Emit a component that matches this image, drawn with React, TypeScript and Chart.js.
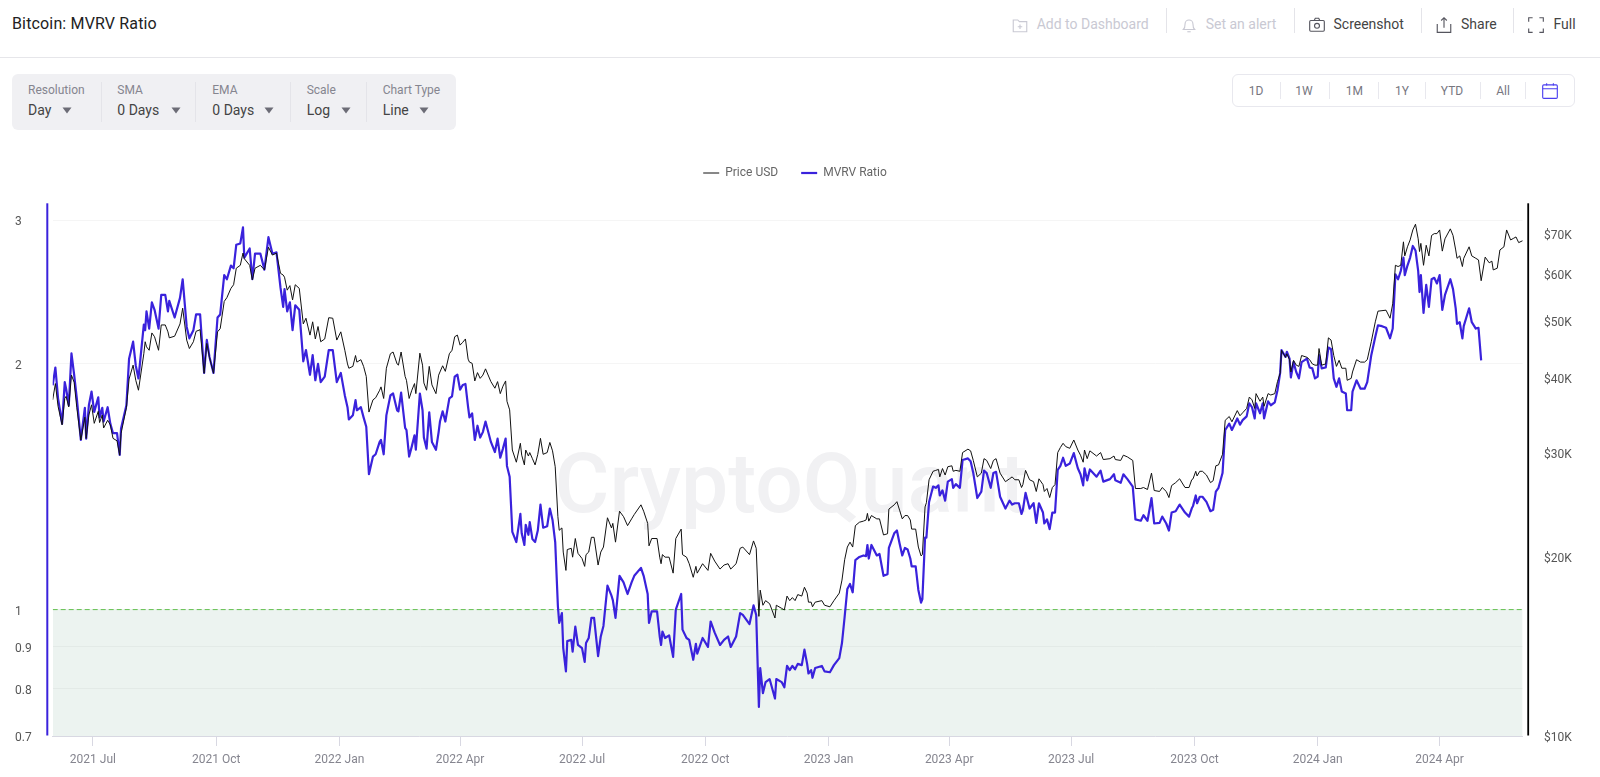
import React, { useEffect, useRef } from "react";
import { Chart, registerables } from "chart.js";

Chart.register(...registerables);

// Day numbers count from 2021-06-01. Values at the turning points of the lines.
const daysA = [0,2,4,7,9,10,12,14,16,18,21,24,25,27,29,31,34,35,37,38,41,43,45,48,50,51,55,57,60,62,64,68,69,70,72,74,76,79,81,84,86,87,91,95,97,100,102,105,107,110,113,115,117,120,123,125,128,130,133,135,137,140,142,143,147,149,151,155,158,161,164,167,170,172,173,175,177];
const mvrvA = [1.883,1.98,1.815,1.69,1.90,1.865,1.78,2.06,1.94,1.815,1.614,1.767,1.62,1.78,1.85,1.747,1.82,1.72,1.767,1.70,1.77,1.69,1.645,1.645,1.547,1.667,1.78,2.03,2.13,1.99,1.92,2.235,2.20,2.32,2.21,2.38,2.33,2.21,2.43,2.43,2.32,2.39,2.28,2.41,2.54,2.22,2.15,2.20,2.30,2.30,1.95,2.14,2.04,1.95,2.28,2.30,2.57,2.54,2.64,2.62,2.80,2.81,2.94,2.70,2.77,2.54,2.73,2.73,2.61,2.86,2.73,2.74,2.48,2.35,2.47,2.32,2.38];
const priceA = [36.8,39.2,35.9,33.4,37.0,37.3,35.8,40.5,39.4,35.7,31.5,34.4,31.7,34.7,36.1,33.6,35.2,33.7,34.7,33.0,34.0,33.4,31.7,31.4,29.7,32.3,35.7,39.9,42.1,39.7,38.2,44.0,46.1,45.2,44.6,47.7,47.0,44.6,49.2,49.2,47.9,46.8,47.1,49.4,52.5,46.4,44.9,46.1,48.0,48.3,40.8,45.8,43.4,40.8,47.9,48.5,53.9,54.7,56.7,57.5,61.3,62.0,65.0,63.6,62.0,58.6,61.3,62.0,60.9,66.5,64.5,65.0,60.1,59.7,59.2,56.3,57.3];

const daysB = [179,181,184,187,189,192,194,196,198,200,203,206,209,212,215,218,220,221,224,226,227,230,232,234,236,239,241,244,245,247,249,252,254,257,258,260,263,264,266,268,270,271,274,276,277,279,281,283,286,288,289,291,293,296,298,300,302,304,306,308,310,311,313,315,317,319,321,323,327,330,332,334,336,338,339,341,343,346,349,350,352,353,355];
const mvrvB = [2.20,2.36,2.33,2.015,2.08,1.94,2.05,1.91,2.0,1.90,1.93,2.08,2.08,1.90,1.95,1.83,1.77,1.71,1.73,1.806,1.755,1.77,1.72,1.675,1.465,1.54,1.55,1.605,1.614,1.55,1.73,1.83,1.84,1.755,1.75,1.845,1.67,1.66,1.54,1.585,1.635,1.57,1.84,1.755,1.625,1.575,1.745,1.605,1.57,1.65,1.70,1.75,1.70,1.815,1.825,1.93,1.94,1.86,1.885,1.89,1.77,1.72,1.74,1.614,1.68,1.625,1.65,1.70,1.605,1.56,1.62,1.535,1.575,1.62,1.50,1.455,1.245,1.21,1.31,1.24,1.20,1.27,1.235];
const priceB = [54.2,57.5,56.7,49.4,50.5,47.3,49.8,46.6,48.9,46.1,46.6,50.6,50.5,46.4,47.9,44.6,42.3,41.6,41.9,43.7,42.6,43.0,41.9,40.3,35.1,36.8,37.1,38.2,38.7,37.0,41.6,44.0,44.3,42.3,42.1,44.3,40.3,39.7,37.0,38.2,39.2,37.7,44.1,42.1,39.3,38.2,41.9,39.0,37.7,40.5,41.0,42.0,41.1,44.0,44.6,47.0,47.3,45.5,46.0,46.6,43.1,42.6,42.4,39.6,40.9,40.0,40.5,41.5,39.5,38.5,39.5,37.7,38.8,39.6,36.6,35.4,30.3,28.9,31.1,29.7,28.6,30.3,29.6];

const daysC = [356,358,360,362,364,366,369,371,373,375,377,378,380,381,383,384,387,388,390,392,395,397,398,400,402,404,407,409,411,414,417,418,420,423,426,429,432,434,439,441,444,445,447,451,453,454,455,457,460,463,465,469,470,473,475,478,480,481,485,489,491,494,498,501,504,506,510,513,515,520,523,525,527,528,530,532];
const mvrvC = [1.28,1.22,1.21,1.25,1.345,1.26,1.265,1.33,1.288,1.21,1.01,.963,.99,.897,.84,.915,.918,.888,.953,.905,.897,.863,.91,.923,.977,.977,.877,.927,.955,1.07,1.04,1.027,.977,1.10,1.08,1.045,1.08,1.10,1.125,1.10,1.045,.963,.995,.995,.927,.905,.94,.923,.93,.875,1.0,1.045,.945,.923,.918,.868,.908,.883,.923,.90,.967,.937,.905,.918,.927,.90,.927,.99,.985,.96,1.012,.985,.76,.848,.79,.815];
const priceC = [30.0,29.3,28.6,29.8,31.7,29.8,30.0,31.2,30.2,28.4,23.4,22.2,22.4,20.4,19.0,20.6,20.7,20.0,21.5,20.3,19.9,19.3,20.2,20.4,21.6,21.6,19.4,20.4,20.8,23.3,22.4,22.8,21.2,23.9,23.4,22.6,23.2,23.6,24.5,23.9,22.8,20.9,21.5,21.5,20.0,19.5,20.2,20.0,20.0,18.8,21.5,22.3,20.2,20.0,19.5,18.5,19.3,18.8,19.5,19.0,20.3,19.7,19.1,19.4,19.5,19.1,19.5,20.7,20.8,20.2,21.3,20.7,15.9,17.6,16.6,16.9];

const daysD = [535,539,540,544,546,548,550,552,554,556,559,561,563,564,566,567,569,574,576,580,583,587,589,591,593,595,597,599,602,605,607,608,609,611,615,617,620,623,624,628,630,632,634,636,638,640,641,644,646,648,649,651,652,654,657,659,661,662,664,666,668,671,672,674,677,679,683,685,687,690,693,695,697,700,702,704,707,711];
const mvrvD = [.822,.778,.822,.815,.803,.853,.843,.853,.845,.858,.855,.893,.858,.835,.843,.825,.848,.853,.84,.838,.855,.872,.91,.98,1.06,1.075,1.05,1.15,1.16,1.165,1.163,1.20,1.155,1.20,1.165,1.17,1.10,1.105,1.19,1.24,1.25,1.205,1.165,1.19,1.185,1.155,1.13,1.13,1.057,1.02,1.03,1.225,1.225,1.355,1.415,1.41,1.42,1.38,1.40,1.36,1.435,1.445,1.41,1.425,1.41,1.525,1.532,1.52,1.47,1.37,1.395,1.48,1.47,1.41,1.47,1.475,1.375,1.33];
const priceD = [16.7,15.8,16.6,16.4,16.3,17.2,16.9,17.1,16.9,17.3,17.2,17.8,17.4,16.8,16.8,16.5,16.8,16.9,16.6,16.5,16.9,17.4,18.3,19.8,20.8,21.2,20.8,22.6,22.9,23.0,23.1,23.7,23.0,23.5,23.2,23.2,21.8,21.9,24.1,24.5,24.8,24.0,23.2,23.5,23.5,23.1,22.3,22.3,20.8,20.1,20.2,24.3,24.7,27.0,27.9,28.0,28.1,27.3,28.2,27.5,28.4,28.5,27.9,28.0,27.9,30.0,30.4,30.2,29.1,27.3,27.7,29.3,29.1,28.2,29.1,29.3,27.7,26.8];

const daysE = [714,716,718,721,723,724,726,729,732,734,736,739,740,742,744,746,748,750,752,754,756,759,762,765,767,769,770,772,774,779,782,784,789,792,793,797,799,802,806,808,812,814,817,820,822,826,828,831,833,835,838,841,845,848,850,851,853,854,856,858,861,864,866,868,870,873,875,878,880,884,886,888,891];
const mvrvE = [1.36,1.345,1.35,1.35,1.31,1.325,1.39,1.33,1.35,1.277,1.35,1.315,1.275,1.29,1.255,1.315,1.315,1.483,1.50,1.535,1.50,1.51,1.555,1.49,1.465,1.42,1.49,1.44,1.485,1.455,1.48,1.435,1.445,1.465,1.44,1.43,1.465,1.445,1.415,1.29,1.285,1.305,1.285,1.37,1.275,1.277,1.30,1.275,1.25,1.315,1.32,1.345,1.315,1.30,1.33,1.34,1.38,1.35,1.375,1.375,1.355,1.32,1.325,1.395,1.41,1.47,1.66,1.69,1.66,1.715,1.685,1.707,1.725];
const priceE = [27.1,27.3,27.0,27.0,26.2,26.5,28.0,27.0,26.8,25.8,27.1,26.5,25.8,26.1,25.2,26.2,26.5,30.0,30.6,31.1,30.7,30.5,31.5,30.3,29.7,28.9,30.3,29.3,30.2,29.6,30.0,29.2,29.3,29.6,29.2,29.1,29.7,29.5,29.1,26.1,26.1,26.2,26.0,27.7,25.9,25.8,26.2,25.8,25.2,26.4,26.7,27.1,26.2,26.2,27.0,27.1,27.9,27.4,27.9,27.9,27.5,26.7,26.9,28.5,28.6,29.8,34.0,34.5,33.8,35.3,34.6,35.0,35.6];

const daysF = [893,895,897,898,901,903,904,907,909,912,914,916,917,920,921,923,924,926,928,930,932,936,938,940,942,944,945,947,950,952,954,956,958,960,962,965,966,969,970,973,976,979,981,984,987,989,992,995,998,1000,1002,1004,1006,1008,1009,1011,1013,1015,1017,1019,1020,1021,1023,1025,1027,1029,1031,1033,1035,1037,1039,1043,1045,1047,1048,1050,1052,1053,1057,1059,1062,1064,1066,1069,1072,1074,1075,1078,1080,1083,1085,1088,1090,1092,1094,1097];
const mvrvF = [1.79,1.77,1.715,1.79,1.74,1.79,1.715,1.80,1.78,1.795,1.857,1.95,2.08,2.04,2.07,2.03,1.925,2.01,1.955,1.92,2.01,2.03,1.98,1.975,1.92,1.93,2.05,1.975,1.98,2.095,2.085,1.92,1.875,1.92,1.85,1.84,1.755,1.755,1.85,1.91,1.865,1.865,1.90,2.05,2.16,2.23,2.225,2.215,2.15,2.21,2.575,2.54,2.60,2.70,2.57,2.64,2.70,2.79,2.755,2.60,2.45,2.57,2.31,2.50,2.35,2.54,2.55,2.51,2.57,2.33,2.43,2.54,2.47,2.34,2.24,2.25,2.15,2.225,2.34,2.25,2.21,2.215,2.02];
const priceF = [37.2,36.8,35.6,37.7,36.6,37.2,35.9,37.7,37.5,37.7,39.5,40.8,44.6,43.4,44.0,43.0,41.0,42.9,42.1,41.9,43.7,43.4,43.0,42.3,42.1,42.1,44.9,42.1,42.3,46.8,46.4,43.7,41.9,42.9,41.6,41.6,39.7,40.0,41.0,43.0,42.6,42.6,43.0,46.1,49.8,51.9,52.0,52.1,50.5,53.4,62.0,61.7,62.0,67.9,64.3,66.6,68.4,71.1,72.7,68.7,65.4,67.5,62.0,67.0,64.3,69.6,70.1,70.1,71.1,65.5,68.7,71.4,69.6,65.8,63.7,64.3,61.7,63.7,66.6,64.3,63.7,63.3,58.4,64.0,62.6,63.0,60.9,61.3,65.8,66.6,71.1,68.4,68.8,69.2,67.7,68.2];

const xTickDays = [30,122,214,304,395,487,579,669,760,852,944,1035];
const xTickLabels = ["2021 Jul","2021 Oct","2022 Jan","2022 Apr","2022 Jul","2022 Oct","2023 Jan","2023 Apr","2023 Jul","2023 Oct","2024 Jan","2024 Apr"];
const mvrvTicks = [0.7,0.8,0.9,1,2,3];
const priceTicks = [10,20,30,40,50,60,70];
const bandLevel = [1,1];
const bandDays = [0,1097];
const dayRange = [0,1097];
const mvrvRange = [0.7,3.147];
const priceRange = [10,78.84];

const days = [...daysA,...daysB,...daysC,...daysD,...daysE,...daysF];
const mvrv = [...mvrvA,...mvrvB,...mvrvC,...mvrvD,...mvrvE,...mvrvF];
const price = [...priceA,...priceB,...priceC,...priceD,...priceE,...priceF];

const BLUE = "#3a22dc";
const FONT = "Roboto, sans-serif";

const chrome = {
  id: "chrome",
  beforeDatasetsDraw(chart: any) {
    const { ctx } = chart;
    ctx.save();
    ctx.fillStyle = "#f1f1f3";
    ctx.font = `500 84px ${FONT}`;
    ctx.textAlign = "center";
    ctx.textBaseline = "alphabetic";
    ctx.fillText("CryptoQuant", 791, 512);
    ctx.restore();
  },
  afterDraw(chart: any) {
    const { ctx, chartArea: a } = chart;
    ctx.save();
    ctx.fillStyle = BLUE;
    ctx.fillRect(a.left - 6.4, a.top, 2, a.bottom - a.top - 0.5);
    ctx.fillStyle = "#000";
    ctx.fillRect(a.right + 4.6, a.top, 1.8, a.bottom - a.top - 0.5);
    ctx.restore();
  },
};

const abs = (left: number, top: number, extra: any = {}) => ({ position: "absolute", left, top, ...extra } as React.CSSProperties);

function Text({ x, y, size = 14, color = "#444", center = false, spacing = 0, children }: any) {
  return (
    <span style={abs(x, y - 10, { height: 20, lineHeight: "20px", fontSize: size, color, whiteSpace: "nowrap", letterSpacing: spacing, transform: center ? "translateX(-50%)" : undefined })}>
      {children}
    </span>
  );
}
const VLine = ({ x, y0, y1, color }: any) => <div style={abs(x, y0, { width: 1, height: y1 - y0, background: color })} />;
const Caret = ({ x, y }: any) => (
  <svg style={abs(x - 5, y - 3)} width="10" height="7"><path d="M0.5 0.5H9.5L5 6.5Z" fill="#6c6c76" /></svg>
);
const Icon = ({ x, y, color, size = 18, children }: any) => (
  <svg style={abs(x - size / 2, y - size / 2)} width={size} height={size} viewBox="0 0 16 16" fill="none" stroke={color} strokeWidth="1">{children}</svg>
);

const selects = [
  { label: "Resolution", value: "Day", x: 28, caret: 67 },
  { label: "SMA", value: "0 Days", x: 117.3, caret: 175.7 },
  { label: "EMA", value: "0 Days", x: 212.3, caret: 269.3 },
  { label: "Scale", value: "Log", x: 306.7, caret: 346 },
  { label: "Chart Type", value: "Line", x: 382.7, caret: 424 },
];
const rangeButtons = [["1D",1256],["1W",1304],["1M",1354.3],["1Y",1402],["YTD",1452],["All",1503]] as [string, number][];

export default function App() {
  const ref = useRef<HTMLCanvasElement>(null);
  useEffect(() => {
    if (days.length !== price.length || mvrv.length > days.length) throw new Error(`lengths ${days.length} ${price.length} ${mvrv.length}`);
    const chart = new Chart(ref.current!, {
      type: "line",
      data: {
        datasets: [
          { label: "Price USD", data: days.map((d, i) => ({ x: d, y: price[i] })), yAxisID: "price", borderColor: "#111", backgroundColor: "#111", borderWidth: 1, borderJoinStyle: "round", pointRadius: 0, tension: 0 },
          { label: "MVRV Ratio", data: mvrv.map((v, i) => ({ x: days[i], y: v })), yAxisID: "mvrv", borderColor: BLUE, backgroundColor: BLUE, borderWidth: 2.2, borderJoinStyle: "round", pointRadius: 0, tension: 0 },
          { label: "", data: bandDays.map((d, i) => ({ x: d, y: bandLevel[i] })), yAxisID: "mvrv", borderColor: "#63c04f", borderWidth: 1, borderDash: [5, 3], pointRadius: 0, fill: "start", backgroundColor: "rgba(45,125,85,0.09)" },
        ],
      } as any,
      plugins: [chrome],
      options: {
        animation: false,
        responsive: false,
        parsing: false,
        events: [],
        layout: { padding: { top: 144, left: 15, right: 25, bottom: 0 } },
        plugins: {
          tooltip: { enabled: false },
          title: { display: true, text: "", weight: 2000, font: { size: 10 }, padding: { top: 2.3, bottom: 0 } },
          legend: {
            display: true,
            position: "top",
            weight: 3000,
            labels: {
              filter: (item: any) => !!item.text,
              usePointStyle: true,
              pointStyle: "line",
              pointStyleWidth: 16,
              padding: 23,
              color: "#666",
              font: { family: FONT, size: 12 },
            },
          },
        },
        scales: {
          x: {
            type: "linear",
            min: dayRange[0],
            max: dayRange[1],
            afterFit: (s: any) => { s.height = 41; },
            afterBuildTicks: (s: any) => { s.ticks = xTickDays.map((v) => ({ value: v })); },
            border: { color: "#d8d8e2", width: 1 },
            grid: { drawOnChartArea: false, drawTicks: true, tickLength: 10, color: "#d8d8e2" },
            ticks: {
              autoSkip: false, maxRotation: 0, minRotation: 0, padding: 7, color: "#85858f",
              font: { family: FONT, size: 12 },
              callback: (v: any) => xTickLabels[xTickDays.indexOf(v)],
            },
          },
          mvrv: {
            type: "logarithmic",
            position: "left",
            min: mvrvRange[0],
            max: mvrvRange[1],
            afterFit: (s: any) => { s.width = 37.7; },
            afterBuildTicks: (s: any) => { s.ticks = mvrvTicks.map((v) => ({ value: v })); },
            border: { display: false },
            grid: { color: "rgba(0,0,0,0.04)", drawTicks: false },
            ticks: {
              autoSkip: false, crossAlign: "far", padding: 0, labelOffset: 2, color: "#555",
              font: { family: FONT, size: 12 },
              callback: (v: any) => String(v),
            },
          },
          price: {
            type: "logarithmic",
            position: "right",
            min: priceRange[0],
            max: priceRange[1],
            afterFit: (s: any) => { s.width = 52.3; },
            afterBuildTicks: (s: any) => { s.ticks = priceTicks.map((v) => ({ value: v })); },
            border: { display: false },
            grid: { display: false, drawTicks: false },
            ticks: {
              autoSkip: false, padding: 21.3, labelOffset: 2, color: "#555",
              font: { family: FONT, size: 12 },
              callback: (v: any) => `$${v}K`,
            },
          },
        },
      } as any,
    });
    return () => chart.destroy();
  }, []);

  const faded = "#c9c9d3";
  const dark = "#55555e";
  return (
    <div style={{ position: "absolute", left: 0, top: 0, width: 1600, height: 777, overflow: "hidden", background: "#fff", fontFamily: FONT }}>
      <Text x={12} y={24} size={16} color="#222" spacing={0.15}>Bitcoin: MVRV Ratio</Text>
      <div style={abs(0, 57, { width: 1600, height: 1, background: "#e6e6ea" })} />

      <Icon x={1020} y={25} color={faded}><path d="M2 3.5h4l1.5 1.5H14v9H2z" /><path d="M8 7.5v4M6 9.5h4" /></Icon>
      <Text x={1036.7} y={24} color={faded}>Add to Dashboard</Text>
      <VLine x={1165.5} y0={8} y1={33} color="#e4e4e9" />
      <Icon x={1189.4} y={25} color={faded}><path d="M3 12c1.5-1.5 1.5-3 1.5-5a3.5 3.5 0 0 1 7 0c0 2 0 3.5 1.5 5z" /><path d="M6.5 14h3" /></Icon>
      <Text x={1205.7} y={24} color={faded}>Set an alert</Text>
      <VLine x={1293.5} y0={8} y1={33} color="#e4e4e9" />
      <Icon x={1317} y={25} color={dark}><rect x="1.5" y="4" width="13" height="9.5" rx="1" /><path d="M5.5 4l1-2h3l1 2" /><circle cx="8" cy="8.7" r="2.2" /></Icon>
      <Text x={1333.5} y={24}>Screenshot</Text>
      <VLine x={1420.5} y0={8} y1={33} color="#e4e4e9" />
      <Icon x={1444} y={25} color={dark}><path d="M2 7v7.5h12V7" /><path d="M8 10.5V1.5M5.5 4L8 1.5 10.5 4" /></Icon>
      <Text x={1461} y={24}>Share</Text>
      <VLine x={1512.7} y0={8} y1={33} color="#e4e4e9" />
      <Icon x={1536} y={25} color={dark}><path d="M1.5 5V1.5H5M11 1.5h3.5V5M14.5 11v3.5H11M5 14.5H1.5V11" /></Icon>
      <Text x={1553.5} y={24}>Full</Text>

      <div style={abs(12, 74, { width: 444, height: 56, background: "#f0f0f3", borderRadius: 6 })} />
      {selects.map((s) => (
        <React.Fragment key={s.label}>
          <Text x={s.x} y={90} size={12} color="#85858f">{s.label}</Text>
          <Text x={s.x} y={110} size={14} color="#444">{s.value}</Text>
          <Caret x={s.caret} y={110} />
        </React.Fragment>
      ))}
      {[100.5, 195.3, 290.3, 365.5].map((x) => <VLine key={x} x={x} y0={82} y1={122} color="#e4e4e9" />)}

      <div style={abs(1232, 74, { width: 343, height: 33, boxSizing: "border-box", border: "1px solid #e8e8ee", borderRadius: 6 })} />
      {rangeButtons.map(([t, x]) => <Text key={t} x={x} y={91} size={12} color="#77777f" center>{t}</Text>)}
      {[1279.6, 1329, 1378.4, 1424.5, 1479.6, 1525.3].map((x) => <VLine key={x} x={x} y0={82} y1={99} color="#e8e8ee" />)}
      <Icon x={1549.8} y={91} color="#4b3ff0" size={18}><rect x="1.5" y="2.5" width="13" height="12" rx="1" /><path d="M1.5 6h13M5 1v2M11 1v2" /></Icon>

      <canvas ref={ref} width={1600} height={777} style={abs(0, 0, { width: 1600, height: 777, pointerEvents: "none" })} />
    </div>
  );
}
